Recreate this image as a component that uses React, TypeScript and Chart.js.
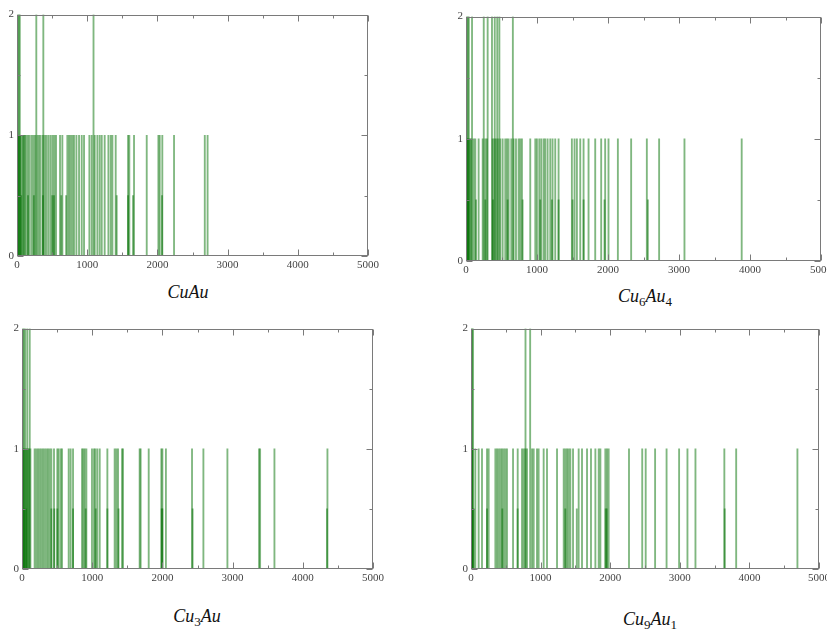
import React, { useEffect, useRef } from "react";
import { Chart, registerables } from "chart.js";
Chart.register(...registerables);

const xTickValues = [0, 1000, 2000, 3000, 4000, 5000];
const yTickValues = [0, 1, 2];

// CuAu
const cuAuPeak2 = [10, 25, 40, 275, 375, 1090];
const cuAuPeak1 = [15, 28, 43, 55, 76, 88, 100, 115, 133, 157, 180, 209, 233, 257, 290, 314, 337, 370, 399, 423, 451, 480, 508, 532, 556, 613, 646, 717, 741, 765, 789, 812, 846, 884, 922, 955, 1031, 1064, 1107, 1145, 1178, 1207, 1249, 1302, 1335, 1359, 1406, 1582, 1600, 1667, 1848, 2014, 2033, 2070, 2237, 2675, 2715];
const cuAuPeakHalf = [60, 157, 240, 370, 503, 527, 631, 700, 1420, 1582, 1653, 2066];

// Cu6Au4
const cu6Au4Peak2 = [10, 25, 40, 85, 250, 305, 366, 405, 440, 470, 660];
const cu6Au4Peak1 = [15, 30, 47, 60, 75, 108, 131, 178, 235, 272, 295, 375, 399, 422, 450, 483, 516, 553, 577, 600, 638, 671, 704, 741, 764, 788, 905, 976, 999, 1032, 1060, 1093, 1116, 1149, 1187, 1219, 1257, 1304, 1491, 1529, 1562, 1609, 1656, 1726, 1820, 1904, 1960, 2007, 2139, 2326, 2547, 2720, 3077, 3883];
const cu6Au4PeakHalf = [30, 141, 272, 380, 586, 797, 1046, 1210, 1304, 1501, 1656, 1951, 2561];

// Cu3Au
const cu3AuPeak2 = [10, 25, 45, 75, 110];
const cu3AuPeak1 = [5, 20, 35, 55, 70, 90, 100, 120, 180, 204, 228, 252, 275, 299, 323, 347, 370, 394, 418, 456, 503, 522, 551, 570, 665, 693, 727, 855, 874, 893, 917, 997, 1026, 1045, 1073, 1107, 1216, 1320, 1344, 1368, 1425, 1439, 1676, 1690, 1805, 1985, 2000, 2050, 2422, 2584, 2926, 3377, 3392, 3596, 4351];
const cu3AuPeakHalf = [30, 60, 418, 460, 503, 727, 907, 1050, 1216, 1375, 1990, 2000, 2430, 4345];

// Cu9Au1
const cu9Au1Peak2 = [5, 15, 30, 783, 850];
const cu9Au1Peak1 = [8, 22, 62, 110, 158, 230, 254, 350, 374, 398, 422, 445, 469, 493, 517, 604, 671, 733, 757, 781, 805, 877, 901, 948, 972, 1044, 1092, 1236, 1332, 1356, 1380, 1403, 1427, 1466, 1547, 1595, 1667, 1724, 1787, 1835, 1859, 1930, 1954, 1978, 2270, 2460, 2510, 2645, 2810, 2990, 3110, 3225, 3640, 3810, 4690];
const cu9Au1PeakHalf = [20, 40, 230, 450, 670, 1355, 1520, 1935, 1950, 3645];

type PanelDef = {
  key: string;
  parts: [string, string][];
  left: number; top: number; w: number; h: number;
  capX: number; capY: number;
  p2: number[]; p1: number[]; ph: number[];
};

const panels: PanelDef[] = [
  { key: "a", parts: [["Cu", ""], ["Au", ""]], left: 17, top: 11, w: 351, h: 245, capX: 188, capY: 293, p2: cuAuPeak2, p1: cuAuPeak1, ph: cuAuPeakHalf },
  { key: "b", parts: [["Cu", "6"], ["Au", "4"]], left: 466, top: 13, w: 355, h: 248, capX: 645, capY: 297, p2: cu6Au4Peak2, p1: cu6Au4Peak1, ph: cu6Au4PeakHalf },
  { key: "c", parts: [["Cu", "3"], ["Au", ""]], left: 22, top: 325, w: 351, h: 244, capX: 197, capY: 617, p2: cu3AuPeak2, p1: cu3AuPeak1, ph: cu3AuPeakHalf },
  { key: "d", parts: [["Cu", "9"], ["Au", "1"]], left: 471, top: 325, w: 348, h: 244, capX: 650, capY: 620, p2: cu9Au1Peak2, p1: cu9Au1Peak1, ph: cu9Au1PeakHalf },
];

const PAD_L = 2, Y_W = 14, PAD_T = 6, X_H = 18, PAD_B = 2, PAD_R = 16;
const FRAME = "#7a7a7a";
const SPIKE = "rgba(0,112,0,0.5)";

const framePlugin = {
  id: "frameTicks",
  afterDraw(chart: any) {
    const { ctx, chartArea: a, scales } = chart;
    const xs = scales.x, ys = scales.y;
    ctx.save();
    ctx.strokeStyle = FRAME;
    ctx.lineWidth = 1;
    const L = Math.round(a.left) + 0.5, R = Math.round(a.right) - 0.5;
    const T = Math.round(a.top) + 0.5, B = Math.round(a.bottom) - 0.5;
    ctx.strokeRect(L, T, R - L, B - T);
    ctx.beginPath();
    for (let v = 0; v <= 5000; v += 500) {
      const len = v % 1000 === 0 ? 6 : 3;
      const px = Math.round(xs.getPixelForValue(v)) + 0.5;
      ctx.moveTo(px, B); ctx.lineTo(px, B - len);
      ctx.moveTo(px, T); ctx.lineTo(px, T + len);
    }
    for (let v = 0; v <= 2; v += 0.5) {
      const len = v % 1 === 0 ? 6 : 3;
      const py = Math.round(ys.getPixelForValue(v)) + 0.5;
      ctx.moveTo(L, py); ctx.lineTo(L + len, py);
      ctx.moveTo(R, py); ctx.lineTo(R - len, py);
    }
    ctx.stroke();
    ctx.restore();
  },
};

function Panel({ p }: { p: PanelDef }) {
  const ref = useRef<HTMLCanvasElement>(null);
  useEffect(() => {
    if (!ref.current) return;
    const mk = (arr: number[], y: number) => arr.map((x) => ({ x, y }));
    const ds = (data: any[]) => ({
      data,
      backgroundColor: SPIKE,
      borderWidth: 0,
      barThickness: 1.2,
      grouped: false,
    });
    const chart = new Chart(ref.current, {
      type: "bar",
      data: {
        datasets: [ds(mk(p.p2, 2)), ds(mk(p.p1, 1)), ds(mk(p.ph, 0.5))],
      },
      options: {
        animation: false,
        responsive: false,
        maintainAspectRatio: false,
        layout: { padding: { left: PAD_L, top: PAD_T, right: PAD_R, bottom: PAD_B } },
        plugins: { legend: { display: false }, tooltip: { enabled: false } },
        scales: {
          x: {
            type: "linear",
            min: 0,
            max: 5000,
            offset: false,
            grid: { display: false, drawTicks: false, offset: false },
            border: { display: false },
            afterBuildTicks: (s: any) => { s.ticks = xTickValues.map((value) => ({ value })); },
            afterFit: (s: any) => { s.height = X_H; },
            ticks: {
              padding: 3, color: "#444", font: { family: "'Liberation Serif', serif", size: 11 },
              maxRotation: 0, autoSkip: false, callback: (v: any) => String(v),
            },
          },
          y: {
            type: "linear",
            min: 0,
            max: 2,
            grid: { display: false, drawTicks: false },
            border: { display: false },
            afterBuildTicks: (s: any) => { s.ticks = yTickValues.map((value) => ({ value })); },
            afterFit: (s: any) => { s.width = Y_W; },
            ticks: { padding: 3, color: "#444", font: { family: "'Liberation Serif', serif", size: 11 }, callback: (v: any) => String(v) },
          },
        },
      },
      plugins: [framePlugin],
    });
    return () => chart.destroy();
  }, [p]);
  const cw = PAD_L + Y_W + p.w + PAD_R;
  const ch = PAD_T + p.h + X_H + PAD_B;
  return (
    <>
      <canvas
        ref={ref}
        width={cw}
        height={ch}
        style={{ position: "absolute", left: p.left - PAD_L - Y_W, top: p.top - PAD_T, width: cw, height: ch }}
      />
      <div
        style={{
          position: "absolute",
          left: p.capX - 60,
          top: p.capY - 12,
          width: 120,
          textAlign: "center",
          fontFamily: "'Liberation Serif', serif",
          fontStyle: "italic",
          fontSize: 18,
          color: "#111",
          lineHeight: "22px",
        }}
      >
        {p.parts.map(([t, s], i) => (
          <span key={i}>
            {t}
            {s && <sub style={{ fontStyle: "normal", fontSize: 13, verticalAlign: "-4px", lineHeight: 0 }}>{s}</sub>}
          </span>
        ))}
      </div>
    </>
  );
}

export default function App() {
  return (
    <div style={{ position: "absolute", left: 0, top: 0, width: 827, height: 631, overflow: "hidden", background: "#fff" }}>
      {panels.map((p) => (
        <Panel key={p.key} p={p} />
      ))}
    </div>
  );
}
